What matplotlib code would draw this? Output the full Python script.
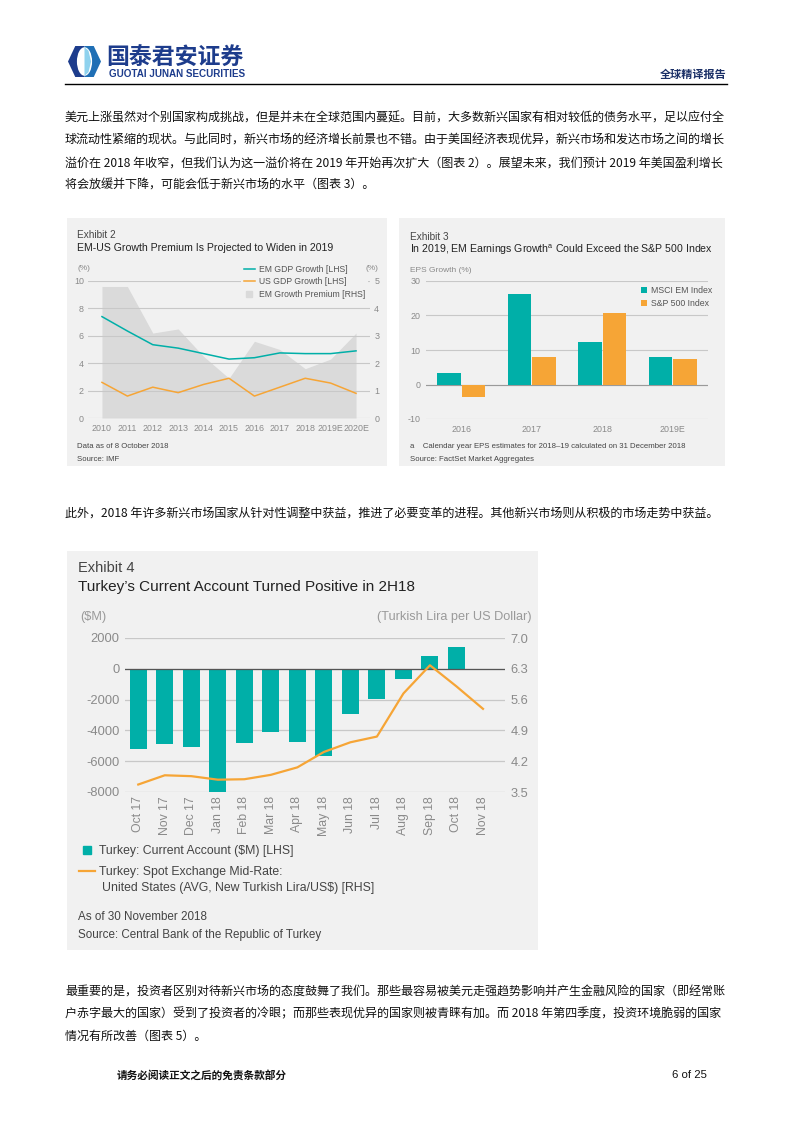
import matplotlib
matplotlib.use('Agg')
import matplotlib.pyplot as plt
import numpy as np
from matplotlib.patches import Rectangle, Polygon, Ellipse
from matplotlib.lines import Line2D

W, H = 793, 1122
CJK = ['Noto Sans CJK SC', 'DejaVu Sans']
LAT = ['Liberation Sans', 'DejaVu Sans']
plt.rcParams['font.family'] = LAT
plt.rcParams['mathtext.fontset'] = 'custom'
plt.rcParams['mathtext.rm'] = 'Liberation Sans'
plt.rcParams['axes.unicode_minus'] = False

TEAL = '#00afa8'
ORANGE = '#f6a536'
BG = '#f1f1f1'
FILLG = '#dadada'
GRID = '#c8c8c8'
TICKC = '#8a8a8a'
NAVY = '#1d3c8c'

# ---------------- data ----------------
ex2_years = ['2010', '2011', '2012', '2013', '2014', '2015', '2016', '2017', '2018', '2019E', '2020E']
ex2_em_gdp = [7.4, 6.35, 5.35, 5.1, 4.7, 4.3, 4.4, 4.75, 4.7, 4.7, 4.9]
ex2_us_gdp = [2.6, 1.6, 2.25, 1.85, 2.45, 2.9, 1.6, 2.25, 2.9, 2.55, 1.8]
ex2_premium = [4.8, 4.8, 3.1, 3.25, 2.25, 1.45, 2.8, 2.5, 1.8, 2.15, 3.1]
ex2_lticks = [0, 2, 4, 6, 8, 10]
ex2_rticks = [0, 1, 2, 3, 4, 5]

ex3_years = ['2016', '2017', '2018', '2019E']
ex3_msci = [3.3, 26.1, 12.3, 7.9]
ex3_sp500 = [-3.7, 7.9, 20.8, 7.4]
ex3_ticks = [-10, 0, 10, 20, 30]

ex4_months = ['Oct 17', 'Nov 17', 'Dec 17', 'Jan 18', 'Feb 18', 'Mar 18', 'Apr 18',
              'May 18', 'Jun 18', 'Jul 18', 'Aug 18', 'Sep 18', 'Oct 18', 'Nov 18']
ex4_current_account = [-5200, -4900, -5050, -8050, -4850, -4100, -4750,
                       -5650, -2950, -1950, -650, 800, 1400, np.nan]
ex4_lira = [3.67, 3.88, 3.86, 3.78, 3.79, 3.89, 4.06, 4.41, 4.63, 4.76, 5.74, 6.38, 5.90, 5.39]
ex4_lticks = [2000, 0, -2000, -4000, -6000, -8000]
ex4_lticklabels = ['2000', '0', '-2000', '-4000', '-6000', '-8000']
ex4_rticks = [7.0, 6.3, 5.6, 4.9, 4.2, 3.5]

para1 = [
    '美元上涨虽然对个别国家构成挑战，但是并未在全球范围内蔓延。目前，大多数新兴国家有相对较低的债务水平，足以应付全',
    '球流动性紧缩的现状。与此同时，新兴市场的经济增长前景也不错。由于美国经济表现优异，新兴市场和发达市场之间的增长',
    '溢价在 2018 年收窄，但我们认为这一溢价将在 2019 年开始再次扩大（图表 2）。展望未来，我们预计 2019 年美国盈利增长',
    '将会放缓并下降，可能会低于新兴市场的水平（图表 3）。',
]
para2 = ['此外，2018 年许多新兴市场国家从针对性调整中获益，推进了必要变革的进程。其他新兴市场则从积极的市场走势中获益。']
para3 = [
    '最重要的是，投资者区别对待新兴市场的态度鼓舞了我们。那些最容易被美元走强趋势影响并产生金融风险的国家（即经常账',
    '户赤字最大的国家）受到了投资者的冷眼；而那些表现优异的国家则被青睐有加。而 2018 年第四季度，投资环境脆弱的国家',
    '情况有所改善（图表 5）。',
]

# ---------------- helpers ----------------
fig = plt.figure(figsize=(W / 100, H / 100), dpi=100)
fig.patch.set_facecolor('white')


def fx(x):
    return x / W


def fy(y):
    return 1 - y / H


def add_ax(x0, y0, x1, y1, **kw):
    return fig.add_axes([x0 / W, 1 - y1 / H, (x1 - x0) / W, (y1 - y0) / H], **kw)


def ftext(x, y, s, **kw):
    kw.setdefault('va', 'center')
    return fig.text(fx(x), fy(y), s, **kw)


def panel(x0, y0, x1, y1):
    fig.add_artist(Rectangle((fx(x0), fy(y1)), (x1 - x0) / W, (y1 - y0) / H,
                             transform=fig.transFigure, facecolor=BG,
                             edgecolor='none', zorder=-5))


def clean(ax):
    for s in ax.spines.values():
        s.set_visible(False)
    ax.patch.set_visible(False)


# ---------------- header ----------------
lax = add_ax(68, 46, 101, 77)
lax.set_xlim(0, 1)
lax.set_ylim(0, 1)
lax.axis('off')
lax.add_patch(Polygon([(0.0, 0.5), (0.22, 0.0), (0.5, 0.0), (0.5, 1.0), (0.22, 1.0)],
                      closed=True, facecolor=NAVY, edgecolor='none'))
lax.add_patch(Polygon([(0.5, 0.0), (0.78, 0.0), (1.0, 0.5), (0.78, 1.0), (0.5, 1.0)],
                      closed=True, facecolor='#1f6fb5', edgecolor='none'))
lax.add_patch(Ellipse((0.5, 0.5), 0.46, 0.92, facecolor='white', edgecolor='none'))
lax.add_patch(Polygon([(0.5, 0.04), (0.62, 0.15), (0.7, 0.5), (0.62, 0.85), (0.5, 0.96)],
                      closed=True, facecolor='#8fd2ee', edgecolor='none'))

ftext(106, 58, '国泰君安证券', fontsize=16.5, fontweight='bold', color=NAVY, family=CJK)
ftext(109, 74, 'GUOTAI JUNAN SECURITIES', fontsize=7.1, fontweight='bold', color=NAVY, family=LAT)
ftext(727, 74, '全球精译报告', fontsize=8, fontweight='bold', color='#1a2f66', family=CJK, ha='right')
fig.add_artist(Line2D([fx(65), fx(727)], [fy(84), fy(84)], transform=fig.transFigure,
                      color='black', lw=1.0))

# ---------------- paragraphs ----------------
BODY = 8.68
for i, line in enumerate(para1):
    ftext(65, 118 + i * 22.5, line, fontsize=BODY, color='#111111', family=CJK)
ftext(65, 513, para2[0], fontsize=BODY, color='#111111', family=CJK)
for i, line in enumerate(para3):
    ftext(65, 992 + i * 22, line, fontsize=BODY, color='#111111', family=CJK)

ftext(117, 1075, '请务必阅读正文之后的免责条款部分', fontsize=7.7, fontweight='bold', color='#111111', family=CJK)
ftext(707, 1075, '6 of 25', fontsize=8.2, color='#111111', ha='right')

# ---------------- Exhibit 2 ----------------
TS = 6.4
panel(67, 218, 387, 466)
ftext(77, 235, 'Exhibit 2', fontsize=7.2, color='#444444')
ftext(77, 248, 'EM-US Growth Premium Is Projected to Widen in 2019', fontsize=7.6, color='#222222')
ftext(77, 268, '(%)', fontsize=6.0, color=TICKC)
ftext(372, 268, '(%)', fontsize=6.0, color=TICKC, ha='center')

ax2 = add_ax(88, 281, 370, 418)
ax2r = ax2.twinx()
x2 = np.arange(len(ex2_years))
ax2r.fill_between(x2, ex2_premium, 0, color=FILLG, lw=0)
ax2r.set_ylim(0, 5)
ax2.set_ylim(0, 10)
ax2.set_xlim(-0.55, 10.55)
ax2.set_zorder(ax2r.get_zorder() + 1)
ax2.plot(x2, ex2_em_gdp, color=TEAL, lw=1.1, zorder=3)
ax2.plot(x2, ex2_us_gdp, color=ORANGE, lw=1.1, zorder=3)
ax2.set_yticks(ex2_lticks)
ax2r.set_yticks(ex2_rticks)
ax2.set_xticks(x2)
ax2.set_xticklabels(ex2_years)
ax2.yaxis.grid(True, color=GRID, lw=0.8)
ax2.xaxis.grid(False)
for a in (ax2, ax2r):
    clean(a)
    a.tick_params(length=0, labelsize=TS, colors=TICKC)
ax2.tick_params(axis='y', pad=3)
ax2r.tick_params(axis='y', pad=3)
ax2.tick_params(axis='x', pad=4)
h2 = [Line2D([], [], color=TEAL, lw=1.1), Line2D([], [], color=ORANGE, lw=1.1),
      Line2D([], [], color=FILLG, marker='s', ls='none', markersize=4)]
leg2 = ax2.legend(h2, ['EM GDP Growth [LHS]', 'US GDP Growth [LHS]', 'EM Growth Premium [RHS]'],
                  loc='upper left', bbox_to_anchor=(fx(241), fy(262)), bbox_transform=fig.transFigure,
                  fontsize=6.2, frameon=True, facecolor=BG, edgecolor='none', framealpha=1,
                  handlelength=1.3, handletextpad=0.5, labelspacing=0.45, borderpad=0.3,
                  borderaxespad=0, labelcolor='#555555')
leg2.set_zorder(10)
ftext(77, 447, 'Data as of 8 October 2018', fontsize=5.6, color='#444444')
ftext(77, 460, 'Source: IMF', fontsize=5.6, color='#444444')

# ---------------- Exhibit 3 ----------------
panel(399, 218, 725, 466)
ftext(410, 237, 'Exhibit 3', fontsize=7.2, color='#444444')
ftext(410, 250, r'In 2019, EM Earnings Growth$^{\mathrm{a}}$ Could Exceed the S&P 500 Index',
      fontsize=7.6, color='#222222')
ftext(410, 270, 'EPS Growth (%)', fontsize=6.0, color=TICKC)

ax3 = add_ax(426, 281, 708, 419)
x3 = np.arange(len(ex3_years))
bw = 0.33
ax3.bar(x3 - 0.175, ex3_msci, bw, color=TEAL, zorder=3, label='MSCI EM Index')
ax3.bar(x3 + 0.175, ex3_sp500, bw, color=ORANGE, zorder=3, label='S&P 500 Index')
ax3.set_xlim(-0.5, 3.5)
ax3.set_ylim(-10, 30)
ax3.set_yticks(ex3_ticks)
ax3.set_yticklabels([str(v) for v in ex3_ticks])
ax3.set_xticks(x3)
ax3.set_xticklabels(ex3_years)
ax3.yaxis.grid(True, color=GRID, lw=0.8)
ax3.set_axisbelow(True)
ax3.axhline(0, color='#9a9a9a', lw=0.8, zorder=2)
clean(ax3)
ax3.tick_params(length=0, labelsize=TS, colors=TICKC)
ax3.tick_params(axis='y', pad=4)
ax3.tick_params(axis='x', pad=4)
leg3 = ax3.legend(loc='upper right', bbox_to_anchor=(fx(714), fy(284)), bbox_transform=fig.transFigure,
                  fontsize=6.3, frameon=False, handlelength=0.7, handleheight=0.7,
                  handletextpad=0.5, labelspacing=0.45, borderpad=0.2, borderaxespad=0,
                  labelcolor='#555555')
ftext(410, 446, 'a    Calendar year EPS estimates for 2018\u201319 calculated on 31 December 2018',
      fontsize=5.6, color='#444444')
ftext(410, 460, 'Source: FactSet Market Aggregates', fontsize=5.6, color='#444444')

# ---------------- Exhibit 4 ----------------
panel(67, 551, 538, 950)
ftext(78, 568, 'Exhibit 4', fontsize=10.5, color='#444444')
ftext(78, 587, 'Turkey\u2019s Current Account Turned Positive in 2H18', fontsize=11, color='#222222')
ftext(80, 617, '($M)', fontsize=9.2, color='#9a9a9a')
ftext(532, 617, '(Turkish Lira per US Dollar)', fontsize=9.2, color='#9a9a9a', ha='right')

ax4 = add_ax(125, 638, 505, 792)
ax4r = ax4.twinx()
x4 = np.arange(len(ex4_months))
ax4.bar(x4, ex4_current_account, 0.64, color=TEAL, zorder=3)
ax4.axhline(0, color='#555555', lw=0.9, zorder=4)
ax4r.plot(x4, ex4_lira, color=ORANGE, lw=1.6, zorder=5)
ax4.set_xlim(-0.5, 13.83)
ax4.set_ylim(-8000, 2000)
ax4r.set_ylim(3.5, 7.0)
ax4.set_yticks(ex4_lticks)
ax4.set_yticklabels(ex4_lticklabels)
ax4r.set_yticks(ex4_rticks)
ax4r.set_yticklabels(['%.1f' % v for v in ex4_rticks])
ax4.set_xticks(x4)
ax4.set_xticklabels(ex4_months, rotation=90)
ax4.yaxis.grid(True, color=GRID, lw=0.9)
ax4.set_axisbelow(True)
for a in (ax4, ax4r):
    clean(a)
    a.tick_params(length=0, labelsize=9.3, colors=TICKC)
ax4.tick_params(axis='y', pad=4)
ax4r.tick_params(axis='y', pad=4)
ax4.tick_params(axis='x', pad=3, labelsize=8.8)

h4 = [Line2D([], [], color=TEAL, marker='s', ls='none', markersize=5.5),
      Line2D([], [], color=ORANGE, lw=1.6)]
fig.legend(h4, ['Turkey: Current Account ($M) [LHS]', 'Turkey: Spot Exchange Mid-Rate:'],
           loc='upper left', bbox_to_anchor=(fx(79), fy(845)), fontsize=8.8, frameon=False,
           handlelength=1.3, handletextpad=0.35, labelspacing=0.72, borderpad=0,
           borderaxespad=0, labelcolor='#444444')
ftext(102, 888, 'United States (AVG, New Turkish Lira/US$) [RHS]', fontsize=8.8, color='#444444')
ftext(78, 917, 'As of 30 November 2018', fontsize=8.4, color='#444444')
ftext(78, 935, 'Source: Central Bank of the Republic of Turkey', fontsize=8.4, color='#444444')

fig.savefig('out.png', dpi=100, facecolor='white')
